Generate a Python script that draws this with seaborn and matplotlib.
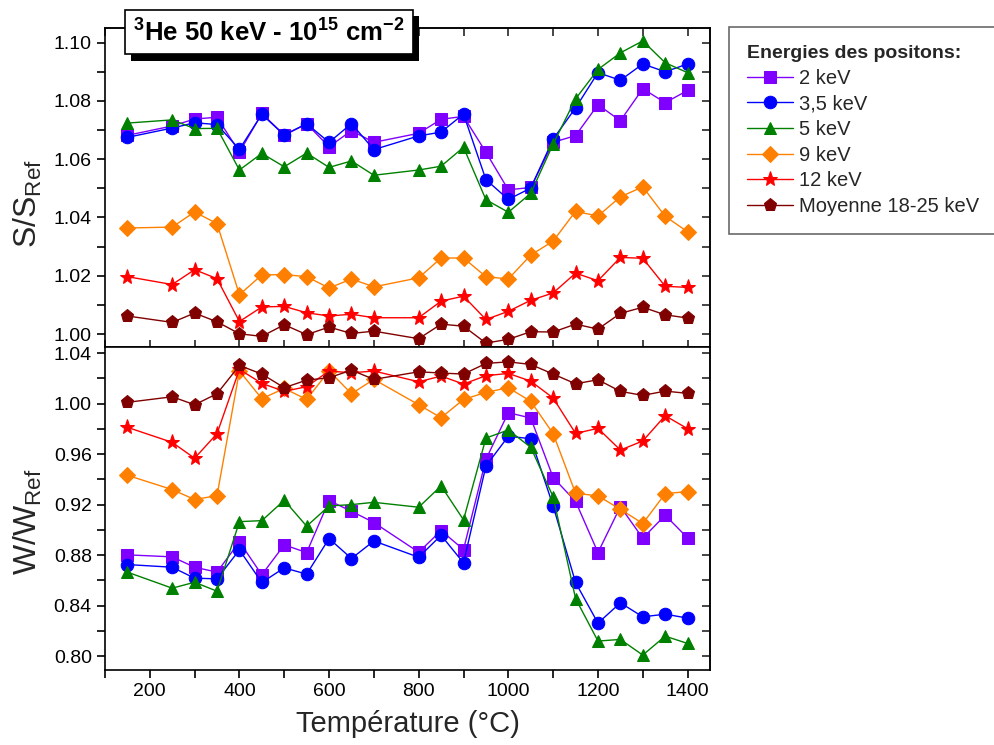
import numpy as np
import pandas as pd
import matplotlib
matplotlib.use('Agg')
import matplotlib.pyplot as plt
import matplotlib.patheffects as pe
from matplotlib.ticker import MultipleLocator, FormatStrFormatter
import seaborn as sns

# ===============================
# Data
# ===============================
temperature = [150, 250, 300, 350, 400, 450, 500, 550, 600, 650, 700, 800,
               850, 900, 950, 1000, 1050, 1100, 1150, 1200, 1250, 1300, 1350, 1400]

energies = ['2 keV', '3,5 keV', '5 keV', '9 keV', '12 keV', 'Moyenne 18-25 keV']

s_2kev = [1.0682, 1.0714, 1.0738, 1.0744, 1.0624, 1.0757, 1.0683, 1.0721, 1.0643, 1.0698,
          1.0658, 1.0689, 1.0737, 1.0747, 1.0624, 1.0495, 1.0503, 1.0658, 1.0681, 1.0787,
          1.0732, 1.0842, 1.0794, 1.0836]
s_3kev = [1.0675, 1.0707, 1.0725, 1.0719, 1.0634, 1.0754, 1.0683, 1.0722, 1.0658, 1.0722,
          1.0633, 1.0680, 1.0693, 1.0755, 1.0530, 1.0462, 1.0501, 1.0669, 1.0776, 1.0897,
          1.0871, 1.0927, 1.0900, 1.0927]
s_5kev = [1.0724, 1.0735, 1.0705, 1.0706, 1.0563, 1.0620, 1.0574, 1.0621, 1.0572, 1.0594,
          1.0545, 1.0563, 1.0576, 1.0641, 1.0461, 1.0418, 1.0483, 1.0652, 1.0807, 1.0908,
          1.0965, 1.1006, 1.0931, 1.0897]
s_9kev = [1.0364, 1.0367, 1.0419, 1.0379, 1.0135, 1.0203, 1.0204, 1.0197, 1.0158, 1.0189,
          1.0162, 1.0193, 1.0261, 1.0261, 1.0197, 1.0189, 1.0271, 1.0319, 1.0421, 1.0405,
          1.0471, 1.0505, 1.0404, 1.0351]
s_12kev = [1.0197, 1.0170, 1.0221, 1.0190, 1.0043, 1.0093, 1.0095, 1.0073, 1.0062, 1.0068,
           1.0056, 1.0056, 1.0113, 1.0130, 1.0050, 1.0078, 1.0116, 1.0141, 1.0209, 1.0183,
           1.0263, 1.0260, 1.0164, 1.0160]
s_moy = [1.0062, 1.0040, 1.0072, 1.0042, 1.0001, 0.9992, 1.0032, 0.9998, 1.0024, 1.0002,
         1.0010, 0.9984, 1.0034, 1.0027, 0.9969, 0.9982, 1.0008, 1.0007, 1.0034, 1.0017,
         1.0071, 1.0092, 1.0066, 1.0055]

w_2kev = [0.8802, 0.8786, 0.8704, 0.8665, 0.8905, 0.8644, 0.8881, 0.8820, 0.9232, 0.9147,
          0.9058, 0.8823, 0.8994, 0.8844, 0.9559, 0.9928, 0.9886, 0.9414, 0.9226, 0.8820,
          0.9184, 0.8934, 0.9116, 0.8936]
w_3kev = [0.8725, 0.8704, 0.8617, 0.8612, 0.8841, 0.8583, 0.8699, 0.8649, 0.8931, 0.8773,
          0.8912, 0.8783, 0.8957, 0.8738, 0.9506, 0.9741, 0.9722, 0.9189, 0.8583, 0.8261,
          0.8422, 0.8311, 0.8332, 0.8301]
w_5kev = [0.8665, 0.8538, 0.8585, 0.8514, 0.9065, 0.9073, 0.9234, 0.9029, 0.9189, 0.9200,
          0.9218, 0.9179, 0.9348, 0.9079, 0.9727, 0.9791, 0.9654, 0.9261, 0.8456, 0.8119,
          0.8132, 0.8008, 0.8158, 0.8100]
w_9kev = [0.9432, 0.9319, 0.9240, 0.9271, 1.0258, 1.0039, 1.0120, 1.0033, 1.0260, 1.0078,
          1.0192, 0.9991, 0.9888, 1.0033, 1.0089, 1.0126, 1.0018, 0.9762, 0.9290, 0.9269,
          0.9163, 0.9050, 0.9287, 0.9303]
w_12kev = [0.9812, 0.9693, 0.9567, 0.9762, 1.0271, 1.0160, 1.0097, 1.0134, 1.0258, 1.0244,
           1.0258, 1.0173, 1.0218, 1.0155, 1.0221, 1.0239, 1.0178, 1.0044, 0.9764, 0.9804,
           0.9632, 0.9704, 0.9904, 0.9801]
w_moy = [1.0010, 1.0054, 0.9991, 1.0078, 1.0302, 1.0234, 1.0126, 1.0186, 1.0205, 1.0265,
         1.0192, 1.0252, 1.0242, 1.0234, 1.0318, 1.0331, 1.0310, 1.0234, 1.0157, 1.0189,
         1.0097, 1.0065, 1.0099, 1.0081]

s_series = [s_2kev, s_3kev, s_5kev, s_9kev, s_12kev, s_moy]
w_series = [w_2kev, w_3kev, w_5kev, w_9kev, w_12kev, w_moy]

couleurs = ['#8000FF', '#0000FF', '#008000', '#FF8000', '#FF0000', '#800000']
marqueurs = ['s', 'o', '^', 'D', '*', 'p']
tailles = [8, 9, 9, 8.5, 11, 9.5]

# ===============================
# Style
# ===============================
sns.set_theme(style='ticks')
plt.rcParams['font.family'] = ['Liberation Sans', 'DejaVu Sans']
plt.rcParams['mathtext.fontset'] = 'custom'
plt.rcParams['mathtext.rm'] = 'Liberation Sans'
plt.rcParams['mathtext.bf'] = 'Liberation Sans:bold'
plt.rcParams['axes.linewidth'] = 1.2

fig = plt.figure(figsize=(9.94, 7.45), dpi=100)
ax_s = fig.add_axes([0.1056, 0.534, 0.6087, 0.4283])
ax_w = fig.add_axes([0.1056, 0.1007, 0.6087, 0.4333], sharex=ax_s)

for nom, s_val, w_val, c, m, t in zip(energies, s_series, w_series, couleurs, marqueurs, tailles):
    df_s = pd.DataFrame({'T': temperature, 'v': s_val})
    df_w = pd.DataFrame({'T': temperature, 'v': w_val})
    sns.lineplot(data=df_s, x='T', y='v', ax=ax_s, color=c, marker=m, markersize=t,
                 markeredgecolor=c, linewidth=1, label=nom)
    sns.lineplot(data=df_w, x='T', y='v', ax=ax_w, color=c, marker=m, markersize=t,
                 markeredgecolor=c, linewidth=1, legend=False)

# ===============================
# Axes
# ===============================
ax_s.set_xlim(100, 1450)
ax_s.set_ylim(0.9955, 1.105)
ax_w.set_ylim(0.789, 1.0447)

ax_s.yaxis.set_major_locator(MultipleLocator(0.02))
ax_s.yaxis.set_minor_locator(MultipleLocator(0.01))
ax_s.yaxis.set_major_formatter(FormatStrFormatter('%.2f'))
ax_w.yaxis.set_major_locator(MultipleLocator(0.04))
ax_w.yaxis.set_minor_locator(MultipleLocator(0.02))
ax_w.yaxis.set_major_formatter(FormatStrFormatter('%.2f'))
ax_w.xaxis.set_major_locator(MultipleLocator(200))
ax_w.xaxis.set_minor_locator(MultipleLocator(100))

for ax in (ax_s, ax_w):
    for sp in ax.spines.values():
        sp.set_visible(True)
        sp.set_color('black')
    ax.tick_params(axis='y', which='both', direction='out', left=True, colors='black',
                   width=1.2, length=6, labelsize=14)
    sec = ax.secondary_yaxis('right')
    sec.yaxis.set_major_locator(ax.yaxis.get_major_locator())
    sec.yaxis.set_minor_locator(ax.yaxis.get_minor_locator())
    sec.tick_params(which='both', direction='in', length=6, width=1.2, labelright=False)

ax_s.tick_params(axis='x', which='major', direction='inout', length=10, width=1.2,
                 bottom=True, labelbottom=False)
ax_s.tick_params(axis='x', which='minor', direction='in', length=5, width=1.2, bottom=True)
sec_top = ax_s.secondary_xaxis('top')
sec_top.xaxis.set_major_locator(MultipleLocator(200))
sec_top.xaxis.set_minor_locator(MultipleLocator(100))
sec_top.tick_params(which='both', direction='in', length=6, width=1.2, labeltop=False)

ax_w.tick_params(axis='x', which='both', direction='out', bottom=True, length=6, width=1.2,
                 colors='black', labelsize=14)

ax_s.set_xlabel('')
ax_w.set_xlabel('Température (°C)', fontsize=21, labelpad=7)
ax_s.set_ylabel(r'S/S$_{\mathrm{Ref}}$', fontsize=23)
ax_w.set_ylabel(r'W/W$_{\mathrm{Ref}}$', fontsize=23)
ax_s.yaxis.set_label_coords(-0.10, 0.45)
ax_w.yaxis.set_label_coords(-0.10, 0.458)

# ===============================
# Légende
# ===============================
handles, labels = ax_s.get_legend_handles_labels()
ax_s.get_legend().remove()
leg = fig.legend(handles, labels, title='Energies des positons:', loc='upper left',
                 bbox_to_anchor=(0.7334, 0.9638), borderaxespad=0, fontsize=14.5,
                 title_fontsize=14, frameon=True, fancybox=False, edgecolor='#444444',
                 handlelength=2.3, labelspacing=0.33, borderpad=0.9, handletextpad=0.3)
leg.get_title().set_fontweight('bold')
leg.get_frame().set_linewidth(1.2)
leg._legend_box.align = 'left'

# ===============================
# Titre encadré avec ombre
# ===============================
titre = r'$^{\mathbf{3}}$He 50 keV - 10$^{\mathbf{15}}$ cm$^{\mathbf{-2}}$'
txt = fig.text(0.2705, 0.957, titre, ha='center', va='center', fontsize=18.5,
               fontweight='bold', color='black', zorder=5,
               bbox=dict(boxstyle='square,pad=0.33', facecolor='white', edgecolor='black',
                         linewidth=1.2))
txt.get_bbox_patch().set_path_effects([
    pe.SimplePatchShadow(offset=(4.5, -4.5), shadow_rgbFace='black', alpha=1.0),
    pe.Normal()])

fig.savefig('out.png', dpi=100)
